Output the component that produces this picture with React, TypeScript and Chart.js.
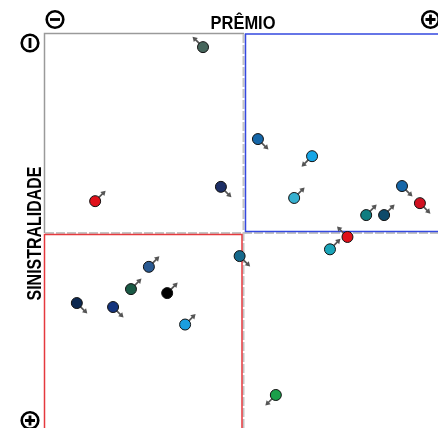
import React, { useEffect, useRef } from "react";
import { Chart, registerables } from "chart.js";

Chart.register(...registerables);

const xValues = [39.7, 53.5, 67.1, 12.6, 44.2, 62.6, 89.7, 94.2, 80.7, 85.2, 76.0, 71.6, 48.9, 26.1, 21.6, 30.7, 8.0, 17.1, 35.2, 58.0];
const yValues = [3.3, 26.4, 30.7, 42.0, 38.4, 41.2, 38.2, 42.5, 45.5, 45.5, 51.0, 54.1, 55.8, 58.5, 64.1, 65.1, 67.6, 68.6, 73.0, 90.7];
const pointColors = [
  "#46665c", "#1566a8", "#16a5e6", "#e0101a", "#1d2f66",
  "#36b0d0", "#1566a8", "#d01020", "#0f7d80", "#0e4a6a",
  "#e0101a", "#1aa4b8", "#16698c", "#2a5a92", "#1a5a45",
  "#000000", "#0c2850", "#14347e", "#1a9ee0", "#1aa04a",
];
const arrowDirs = [
  "nw", "se", "sw", "ne", "se",
  "ne", "se", "se", "ne", "ne",
  "nw", "ne", "se", "ne", "ne",
  "ne", "se", "se", "ne", "sw",
];
const xTitle = "PRÊMIO";
const yTitle = "SINISTRALIDADE";
const midValue = 50;

const dirVec: Record<string, [number, number]> = {
  ne: [1, -1],
  nw: [-1, -1],
  se: [1, 1],
  sw: [-1, 1],
};

const quadrantPlugin = {
  id: "quadrants",
  beforeDatasetsDraw(chart: any) {
    const { ctx, chartArea, scales } = chart;
    const { left, top, right, bottom } = chartArea;
    const cx = scales.x.getPixelForValue(midValue);
    const cy = scales.y.getPixelForValue(midValue);
    ctx.save();
    // gray frame
    ctx.strokeStyle = "#9a9a9a";
    ctx.lineWidth = 1.5;
    ctx.beginPath();
    ctx.moveTo(left - 0.5, cy);
    ctx.lineTo(left - 0.5, top - 0.5);
    ctx.lineTo(cx, top - 0.5);
    ctx.stroke();
    // dashed center lines
    ctx.strokeStyle = "#c4c4c4";
    ctx.lineWidth = 2;
    ctx.setLineDash([9, 2]);
    ctx.beginPath();
    ctx.moveTo(cx - 0.5, top);
    ctx.lineTo(cx - 0.5, bottom);
    ctx.moveTo(left, cy);
    ctx.lineTo(right, cy);
    ctx.stroke();
    ctx.setLineDash([]);
    // blue quadrant
    ctx.strokeStyle = "#3448e0";
    ctx.lineWidth = 1.5;
    ctx.beginPath();
    ctx.moveTo(right + 5, cy - 1.5);
    ctx.lineTo(cx + 1.5, cy - 1.5);
    ctx.lineTo(cx + 1.5, top);
    ctx.lineTo(right + 5, top);
    ctx.stroke();
    // red quadrant
    ctx.strokeStyle = "#e5393e";
    ctx.lineWidth = 1.5;
    ctx.beginPath();
    ctx.moveTo(left - 0.5, bottom + 5);
    ctx.lineTo(left - 0.5, cy + 1.5);
    ctx.lineTo(cx - 2, cy + 1.5);
    ctx.lineTo(cx - 2, bottom + 5);
    ctx.stroke();

    // arrows
    const meta = chart.getDatasetMeta(0);
    ctx.strokeStyle = "#555";
    ctx.fillStyle = "#555";
    ctx.lineWidth = 1.7;
    meta.data.forEach((pt: any, i: number) => {
      const d = dirVec[arrowDirs[i]];
      if (!d) return;
      const sx = pt.x + d[0] * 3;
      const sy = pt.y + d[1] * 3;
      const ex = pt.x + d[0] * 10.5;
      const ey = pt.y + d[1] * 10.5;
      ctx.beginPath();
      ctx.moveTo(sx, sy);
      ctx.lineTo(ex - d[0] * 2, ey - d[1] * 2);
      ctx.stroke();
      const ang = Math.atan2(ey - sy, ex - sx);
      const hl = 5.5;
      ctx.beginPath();
      ctx.moveTo(ex, ey);
      ctx.lineTo(ex - hl * Math.cos(ang - 0.55), ey - hl * Math.sin(ang - 0.55));
      ctx.lineTo(ex - hl * Math.cos(ang + 0.55), ey - hl * Math.sin(ang + 0.55));
      ctx.closePath();
      ctx.fill();
    });
    ctx.restore();
  },
  afterDraw(chart: any) {
    const { ctx } = chart;
    ctx.save();
    ctx.fillStyle = "#000";
    ctx.textAlign = "center";
    ctx.textBaseline = "alphabetic";
    ctx.font = "bold 18px 'Liberation Sans', Arial, sans-serif";
    ctx.fillText(xTitle, 243, 29, 65);
    ctx.save();
    ctx.translate(40.5, 233.5);
    ctx.rotate(-Math.PI / 2);
    ctx.font = "bold 19.5px 'Liberation Sans', Arial, sans-serif";
    ctx.fillText(yTitle, 0, 0, 134);
    ctx.restore();

    const icon = (x: number, y: number, kind: string) => {
      ctx.strokeStyle = "#000";
      ctx.lineWidth = 2.6;
      ctx.beginPath();
      ctx.arc(x, y, 8.3, 0, Math.PI * 2);
      ctx.stroke();
      ctx.lineWidth = 2.8;
      ctx.beginPath();
      if (kind === "minus" || kind === "plus") {
        ctx.moveTo(x - 5, y);
        ctx.lineTo(x + 5, y);
      }
      if (kind === "plus" || kind === "vbar") {
        ctx.moveTo(x, y - 5);
        ctx.lineTo(x, y + 5);
      }
      ctx.stroke();
    };
    icon(55, 19.5, "minus");
    icon(430.5, 19.5, "plus");
    icon(30, 43, "vbar");
    icon(30, 420.5, "plus");
    ctx.restore();
  },
};

export default function App() {
  const canvasRef = useRef<HTMLCanvasElement | null>(null);

  useEffect(() => {
    if (!canvasRef.current) return;
    const data = xValues.map((x, i) => ({ x, y: yValues[i] }));
    const chart = new Chart(canvasRef.current, {
      type: "scatter",
      data: {
        datasets: [
          {
            data,
            pointRadius: 5.5,
            pointHoverRadius: 5.5,
            pointBackgroundColor: pointColors,
            pointBorderColor: "#111",
            pointBorderWidth: 1,
            clip: false,
          },
        ],
      },
      options: {
        animation: false,
        responsive: false,
        layout: { autoPadding: false, padding: { left: 45, top: 34, right: 0, bottom: 0 } },
        plugins: {
          legend: { display: false },
          tooltip: { enabled: false },
        },
        scales: {
          x: { type: "linear", min: 0, max: 100, display: false },
          y: { type: "linear", min: 0, max: 100, reverse: true, display: false },
        },
      },
      plugins: [quadrantPlugin],
    });
    return () => chart.destroy();
  }, []);

  return (
    <div
      style={{
        position: "fixed",
        left: 0,
        top: 0,
        width: 438,
        height: 428,
        overflow: "hidden",
        background: "#fff",
      }}
    >
      <canvas
        ref={canvasRef}
        width={443}
        height={432}
        style={{ position: "absolute", left: 0, top: 0, width: 443, height: 432 }}
      />
    </div>
  );
}
